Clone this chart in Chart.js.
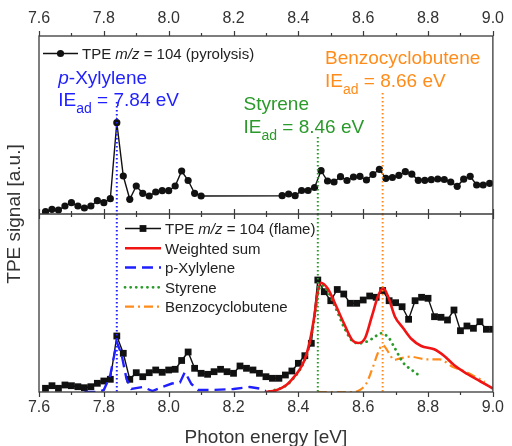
<!DOCTYPE html>
<html><head><meta charset="utf-8">
<script src="https://cdn.jsdelivr.net/npm/chart.js@4"></script>
<style>html,body{margin:0;padding:0;background:#fff;}canvas{display:block;}</style>
</head><body>
<canvas id="c" width="512" height="446"></canvas>
<script>
// ---------- data ----------
const X_TICKS = [7.6, 7.8, 8.0, 8.2, 8.4, 8.6, 8.8, 9.0];

// top panel: TPE m/z = 104 (pyrolysis)
const PYRO_E = [7.62,7.64,7.66,7.68,7.70,7.72,7.74,7.76,7.78,7.80,7.82,7.84,7.86,7.88,7.90,7.92,7.94,7.96,7.98,8.00,8.02,8.04,8.06,8.08,8.10,
  8.35,8.37,8.39,8.41,8.43,8.45,8.47,8.49,8.51,8.53,8.55,8.57,8.59,8.61,8.63,8.65,8.67,8.69,8.71,8.73,8.75,8.77,8.79,8.81,8.83,8.85,8.87,8.89,8.91,8.93,8.95,8.97,8.99];
const PYRO_S = [2.3,4.7,4,8,11.3,8,6,8,13.3,11.3,15.3,91.3,38,14.7,28,20.7,18,22,23.3,23.3,28,43,33.5,20.7,18,
  18.3,20,18.3,23.5,23.5,26.5,43.3,33,32,37.3,33.5,37,37.7,34,39.5,44.7,35.7,36.5,38.7,42.3,39.8,33.7,33.7,34.3,35,34.5,32,27.7,34.8,37.7,29,29,30.7];

// bottom panel: TPE m/z = 104 (flame)
const FLAME_E = [7.62,7.64,7.66,7.68,7.70,7.72,7.74,7.76,7.78,7.80,7.82,7.84,7.86,7.88,7.90,7.92,7.94,7.96,7.98,8.00,
  8.02,8.04,8.06,8.08,8.10,8.12,8.14,8.16,8.18,8.20,8.22,8.24,8.26,8.28,8.30,8.32,8.34,8.36,8.38,8.40,
  8.42,8.44,8.46,8.48,8.50,8.52,8.54,8.56,8.58,8.60,8.62,8.64,8.66,8.68,8.70,8.72,8.74,8.76,8.78,8.80,
  8.82,8.84,8.86,8.88,8.90,8.92,8.94,8.96,8.98,9.00];
const FLAME_S = [3.7,6.3,3.7,7,6.3,5.3,4.3,5.3,8.7,11,12.7,56,38.7,12.7,19.3,15.3,19.3,22,19.7,22,
  22.7,31.5,40,23.7,18.7,17.7,20.3,22.7,20.3,18.7,26,23.7,22,18.7,15.3,13.7,13.7,17,21,28.7,
  36.3,48.7,112,100.3,91.3,102.5,98,88.7,88.7,92,96,94.7,101.5,91.3,89.3,85.3,72.7,91.3,94.7,93.7,
  75.3,74.7,72,82,61.3,66,63.7,70.3,62.7,62.7];

// weighted sum
const SUM_E = [8.30,8.33,8.363,8.383,8.403,8.419,8.434,8.449,8.459,8.469,8.49,8.515,8.54,8.566,8.586,8.606,8.627,8.647,8.662,8.677,8.698,8.723,8.749,8.779,8.819,8.85,8.88,8.921,8.962,9.0];
const SUM_S = [0,1.5,7,13.7,22,32,48.7,75.3,98.7,109.3,103.7,87,69,52,49,54,76,97,103.7,95.3,75.3,64,53,46,42.7,36,27,18,10.5,3.5];

// p-Xylylene
const PX_E = [7.74,7.78,7.80,7.82,7.84,7.855,7.87,7.885,7.92,7.95,7.98,8.01,8.035,8.05,8.07,8.09,8.13,8.20,8.25,8.28,8.30];
const PX_S = [0,0,2,17,50,37,13,3,5,1,5,8.5,9.5,20,8,2,2,3,5,3.5,1];

// Styrene
const STY_E = [8.31,8.36,8.38,8.40,8.42,8.435,8.45,8.46,8.47,8.49,8.515,8.545,8.57,8.59,8.61,8.63,8.655,8.68,8.695,8.725,8.75,8.775];
const STY_S = [0.5,6,12,20,32,48,74,97,107,101,84,62,50,48.7,50.3,53.7,58.7,53.7,45.3,28.7,22,16];

// Benzocyclobutene
const BCB_E = [8.46,8.57,8.59,8.61,8.63,8.645,8.66,8.68,8.695,8.715,8.745,8.795,8.835,8.875,8.915,8.955,8.975];
const BCB_S = [0,0,2,8.7,25,38.7,47,38.7,32,33.7,35.3,32.7,32.7,25.3,20.3,13.7,10.3];

// adiabatic ionisation energies (vertical markers) and top ends of their lines in the upper panel
const IE_VALUES = [7.84, 8.46, 8.66];
const IE_TOP = [112, 77, 121];

const PANEL_MAX = 178;

// ---------- helpers ----------
const FONT = '"Liberation Sans", Arial, Helvetica, sans-serif';
const zip = (xs, ys) => xs.map((x, i) => ({x, y: ys[i]}));
const BLUE = '#1f1fff', GREEN = '#2a9a2a', ORANGE = '#ff8c1a', RED = '#f01414';
const IE_COLORS = [BLUE, GREEN, ORANGE];

const datasets = [
  {label:'pyro', data: zip(PYRO_E, PYRO_S), yAxisID:'yTop', borderColor:'#111', backgroundColor:'#111',
   borderWidth:1.4, pointRadius:3.6, pointStyle:'circle', pointBorderWidth:0, order:6},
  {label:'flame', data: zip(FLAME_E, FLAME_S), yAxisID:'yBot', borderColor:'#111', backgroundColor:'#111',
   borderWidth:1.4, pointRadius:4.8, pointStyle:'rect', pointBorderWidth:0, order:5},
  {label:'bcb', data: zip(BCB_E, BCB_S), yAxisID:'yBot', borderColor:ORANGE, borderWidth:2.2, borderDash:[9,4,2,4],
   pointRadius:0, cubicInterpolationMode:'monotone', order:4},
  {label:'sty', data: zip(STY_E, STY_S), yAxisID:'yBot', borderColor:GREEN, borderWidth:2.8, borderDash:[0.1,5.5], borderCapStyle:'round',
   pointRadius:0, cubicInterpolationMode:'monotone', order:3},
  {label:'px', data: zip(PX_E, PX_S), yAxisID:'yBot', borderColor:BLUE, borderWidth:2.4, borderDash:[11,6],
   pointRadius:0, tension:0, order:2},
  {label:'sum', data: zip(SUM_E, SUM_S), yAxisID:'yBot', borderColor:RED, borderWidth:2.6,
   pointRadius:0, cubicInterpolationMode:'monotone', order:1},
];
IE_VALUES.forEach((e, i) => {
  datasets.push({label:'ieT'+i, data:[{x:e, y:IE_TOP[i]}, {x:e, y:0}], yAxisID:'yTop', borderColor:IE_COLORS[i],
    borderWidth:2, borderDash:[1.6,2.4], pointRadius:0, order:0});
  datasets.push({label:'ieB'+i, data:[{x:e, y:PANEL_MAX}, {x:e, y:0}], yAxisID:'yBot', borderColor:IE_COLORS[i],
    borderWidth:2, borderDash:[1.6,2.4], pointRadius:0, order:0});
});

const xTicks = (pos, h, pad) => ({
  type:'linear', position:pos, min:X_TICKS[0], max:X_TICKS[X_TICKS.length-1],
  afterBuildTicks: s => { s.ticks = X_TICKS.map(v => ({value:v})); },
  ticks:{font:{family:FONT, size:16}, color:'#333', padding:pad, maxRotation:0, autoSkip:false,
         callback: v => Number(v).toFixed(1)},
  grid:{display:false, drawTicks:false}, border:{display:false},
  afterFit: s => { s.height = h; }
});

const yPanel = () => ({type:'linear', min:0, max:PANEL_MAX, stack:'panels', stackWeight:1, position:'left',
  ticks:{display:false}, grid:{display:false, drawTicks:false}, border:{display:false},
  afterFit: s => { s.width = 0; }});

function richText(ctx, x, y, parts) {
  let cx = x;
  for (const [t, f, dy] of parts) {
    ctx.font = f;
    ctx.fillText(t, cx, y + (dy || 0));
    cx += ctx.measureText(t).width;
  }
}

const decor = {
  id:'decor',
  afterDatasetsDraw(chart) {
    const {ctx, chartArea:a, scales} = chart;
    const xs = scales.x, mid = scales.yTop.bottom;
    ctx.save();
    ctx.strokeStyle = '#3a3a3a'; ctx.lineWidth = 1.3;
    ctx.strokeRect(a.left, a.top, a.right - a.left, a.bottom - a.top);
    ctx.beginPath(); ctx.moveTo(a.left, mid); ctx.lineTo(a.right, mid); ctx.stroke();
    ctx.lineWidth = 1.2;
    for (let i = 0; i <= 14; i++) {
      const v = 7.6 + i * 0.1;
      const px = Math.round(xs.getPixelForValue(v)) + 0.5;
      const L = (i % 2 === 0) ? 5 : 3;
      ctx.beginPath();
      ctx.moveTo(px, a.top); ctx.lineTo(px, a.top - L);
      ctx.moveTo(px, mid - L); ctx.lineTo(px, mid + L);
      ctx.moveTo(px, a.bottom); ctx.lineTo(px, a.bottom + L);
      ctx.stroke();
    }
    ctx.restore();
  },
  afterDraw(chart) {
    const {ctx, chartArea:a} = chart;
    ctx.save();
    ctx.textBaseline = 'alphabetic'; ctx.textAlign = 'left';
    ctx.save();
    ctx.translate(15, (a.top + a.bottom) / 2);
    ctx.rotate(-Math.PI / 2);
    ctx.textAlign = 'center'; ctx.textBaseline = 'middle';
    ctx.fillStyle = '#333'; ctx.font = '19px ' + FONT;
    ctx.fillText('TPE signal [a.u.]', 0, 0);
    ctx.restore();

    const F = s => s + 'px ' + FONT, FI = s => 'italic ' + s + 'px ' + FONT;
    const ann = [
      {c:BLUE, x:58.3, y1:84, y2:106, title:[['p', FI(19)], ['-Xylylene', F(19)]], ie:'7.84'},
      {c:GREEN, x:243.5, y1:110, y2:133, title:[['Styrene', F(19)]], ie:'8.46'},
      {c:ORANGE, x:325, y1:64, y2:87, title:[['Benzocyclobutene', F(19)]], ie:'8.66'},
    ];
    for (const an of ann) {
      ctx.fillStyle = an.c;
      richText(ctx, an.x, an.y1, an.title);
      richText(ctx, an.x, an.y2, [['IE', F(19)], ['ad', F(14), 6.5], [' = ' + an.ie + ' eV', F(19)]]);
    }

    ctx.strokeStyle = '#111'; ctx.fillStyle = '#111'; ctx.lineWidth = 1.4;
    ctx.beginPath(); ctx.moveTo(43, 53.5); ctx.lineTo(78, 53.5); ctx.stroke();
    ctx.beginPath(); ctx.arc(60.5, 53.5, 3.6, 0, Math.PI * 2); ctx.fill();
    ctx.fillStyle = '#222';
    richText(ctx, 82, 58.5, [['TPE ', F(15)], ['m/z', FI(15)], [' = 104 (pyrolysis)', F(15)]]);

    const lx0 = 125, lx1 = 161, tx = 165;
    const rows = [228.5, 248.3, 267.5, 287.3, 306.7];
    ctx.strokeStyle = '#111'; ctx.fillStyle = '#111'; ctx.lineWidth = 1.4; ctx.setLineDash([]);
    ctx.beginPath(); ctx.moveTo(lx0, rows[0]); ctx.lineTo(lx1, rows[0]); ctx.stroke();
    ctx.fillRect(143 - 3.4, rows[0] - 3.4, 6.8, 6.8);
    const sample = (y, color, w, dash, cap) => {
      ctx.save(); ctx.strokeStyle = color; ctx.lineWidth = w; ctx.setLineDash(dash); ctx.lineCap = cap || 'butt';
      ctx.beginPath(); ctx.moveTo(lx0, y); ctx.lineTo(lx1, y); ctx.stroke(); ctx.restore();
    };
    sample(rows[1], RED, 2.6, []);
    sample(rows[2], BLUE, 2.4, [11, 6]);
    sample(rows[3], GREEN, 2.8, [0.1, 5.5], 'round');
    sample(rows[4], ORANGE, 2.2, [9, 4, 2, 4]);
    ctx.fillStyle = '#222';
    const by = 5.5;
    richText(ctx, tx, rows[0] + by, [['TPE ', F(15)], ['m/z', FI(15)], [' = 104 (flame)', F(15)]]);
    richText(ctx, tx, rows[1] + by, [['Weighted sum', F(15)]]);
    richText(ctx, tx, rows[2] + by, [['p-Xylylene', F(15)]]);
    richText(ctx, tx, rows[3] + by, [['Styrene', F(15)]]);
    richText(ctx, tx, rows[4] + by, [['Benzocyclobutene', F(15)]]);
    ctx.restore();
  }
};

new Chart(document.getElementById('c'), {
  type:'line',
  data:{datasets},
  options:{
    responsive:false, animation:false, devicePixelRatio:1,
    layout:{padding:{left:39, right:13, top:0, bottom:0}},
    plugins:{legend:{display:false}, tooltip:{enabled:false}},
    scales:{
      x: Object.assign(xTicks('bottom', 54, 6), {title:{display:true, text:'Photon energy [eV]', color:'#333',
          font:{family:FONT, size:19, lineHeight:0.9}, padding:0}}),
      x2: xTicks('top', 36, 8),
      yBot: yPanel(),
      yTop: yPanel(),
    }
  },
  plugins:[decor]
});
</script>
</body></html>
